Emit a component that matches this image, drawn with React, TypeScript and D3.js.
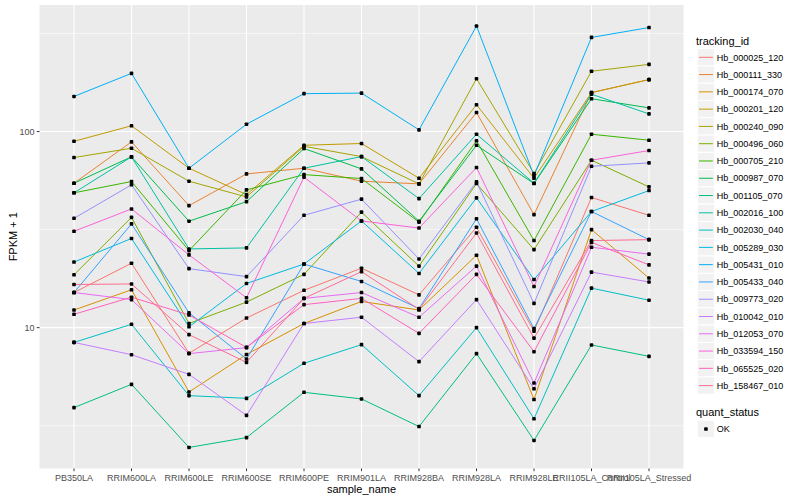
import React from "react";
import * as d3 from "d3";

const samples = [
  "PB350LA", "RRIM600LA", "RRIM600LE", "RRIM600SE", "RRIM600PE", "RRIM901LA",
  "RRIM928BA", "RRIM928LA", "RRIM928LE", "RRII105LA_Control", "RRII105LA_Stressed",
];

const trackingIds = [
  "Hb_000025_120", "Hb_000111_330", "Hb_000174_070", "Hb_000201_120", "Hb_000240_090",
  "Hb_000496_060", "Hb_000705_210", "Hb_000987_070", "Hb_001105_070", "Hb_002016_100",
  "Hb_002030_040", "Hb_005289_030", "Hb_005431_010", "Hb_005433_040", "Hb_009773_020",
  "Hb_010042_010", "Hb_012053_070", "Hb_033594_150", "Hb_065525_020", "Hb_158467_010",
];

const colors = [
  "#F8766D", "#EA8331", "#D89000", "#C09B00", "#A3A500", "#7CAE00", "#39B600", "#00BB4E",
  "#00BF7D", "#00C1A3", "#00BFC4", "#00BAE0", "#00B0F6", "#35A2FF", "#9590FF", "#C77CFF",
  "#E76BF3", "#FA62DB", "#FF62BC", "#FF6C90",
];

// FPKM + 1 per sample, in the order of `samples`
const hb_000025_120 = [15.1, 21.3, 7.4, 11.2, 15.5, 20.1, 14.7, 32.5, 9.6, 46.1, 37.4];
const hb_000111_330 = [54.5, 88.6, 41.9, 60.8, 65.0, 55.8, 54.1, 125, 37.7, 158, 184];
const hb_000174_070 = [12.3, 15.6, 4.7, 7.3, 10.5, 13.6, 12.3, 23.4, 4.3, 31.6, 17.9];
const hb_000201_120 = [89.2, 107, 65.0, 47.7, 85.1, 86.9, 57.8, 137, 57.8, 158, 184];
const hb_000240_090 = [73.7, 82.2, 55.8, 46.4, 84.1, 74.5, 54.1, 186, 61.1, 203, 220];
const hb_000496_060 = [18.6, 36.5, 10.5, 13.5, 18.7, 38.8, 20.6, 54.3, 25.0, 71.4, 52.2];
const hb_000705_210 = [48.7, 55.6, 24.7, 50.4, 60.3, 57.6, 34.5, 89.7, 27.8, 96.9, 90.3];
const hb_000987_070 = [54.5, 74.3, 34.9, 43.9, 81.9, 64.5, 34.9, 85.1, 54.3, 147, 132];
const hb_001105_070 = [3.91, 5.14, 2.45, 2.75, 4.68, 4.33, 3.13, 7.37, 2.66, 8.16, 7.14];
const hb_002016_100 = [48.7, 74.3, 25.2, 25.5, 65.0, 74.5, 45.5, 96.9, 54.5, 155, 123];
const hb_002030_040 = [8.41, 10.4, 4.5, 4.36, 6.58, 8.19, 4.5, 10.0, 3.43, 15.9, 13.8];
const hb_005289_030 = [21.6, 28.5, 10.1, 16.8, 21.1, 35.0, 18.9, 45.9, 17.6, 39.1, 50.0];
const hb_005431_010 = [151, 198, 65.0, 109, 156, 157, 102, 345, 59.6, 302, 339];
const hb_005433_040 = [15.1, 33.8, 11.9, 6.92, 21.1, 17.2, 12.5, 35.9, 9.88, 39.1, 28.1];
const hb_009773_020 = [36.1, 53.5, 20.0, 18.2, 37.4, 45.2, 22.4, 55.4, 13.3, 66.5, 69.2];
const hb_010042_010 = [8.41, 7.28, 5.78, 3.57, 10.5, 11.3, 6.71, 13.9, 4.88, 19.2, 17.1];
const hb_012053_070 = [15.1, 13.9, 7.37, 7.91, 14.1, 15.1, 11.3, 20.6, 5.22, 25.7, 23.7];
const hb_033594_150 = [31.0, 40.3, 23.5, 14.2, 58.5, 35.0, 32.2, 65.5, 16.2, 71.4, 80.0];
const hb_065525_020 = [11.7, 14.3, 11.6, 7.93, 13.1, 14.1, 9.35, 18.7, 7.54, 27.2, 20.9];
const hb_158467_010 = [16.6, 16.7, 9.21, 6.65, 14.1, 19.3, 12.4, 30.4, 8.84, 27.8, 28.1];

const seriesValues = [
  hb_000025_120, hb_000111_330, hb_000174_070, hb_000201_120, hb_000240_090,
  hb_000496_060, hb_000705_210, hb_000987_070, hb_001105_070, hb_002016_100,
  hb_002030_040, hb_005289_030, hb_005431_010, hb_005433_040, hb_009773_020,
  hb_010042_010, hb_012053_070, hb_033594_150, hb_065525_020, hb_158467_010,
];

const yMajorTicks = [10, 100];
const yMinorBreaks = [3.1623, 31.623, 316.23];
const quantStatus = ["OK"];

const FONT = "'Liberation Sans', Arial, Helvetica, sans-serif";

export default function App() {
  const W = 800;
  const H = 500;
  const panel = { left: 39.5, right: 683.5, top: 5, bottom: 468.5 };

  const all = seriesValues.flat();
  const lo = Math.log10(d3.min(all) as number);
  const hi = Math.log10(d3.max(all) as number);
  const pad = (hi - lo) * 0.05;

  const x = d3
    .scalePoint<string>()
    .domain(samples)
    .range([panel.left, panel.right])
    .padding(0.6);
  const y = d3
    .scaleLog()
    .domain([Math.pow(10, lo - pad), Math.pow(10, hi + pad)])
    .range([panel.bottom, panel.top]);

  const line = d3
    .line<number>()
    .x((_, i) => x(samples[i]) as number)
    .y((d) => y(d));

  const legendX = 697.3;
  const keySize = 17.28;
  const firstKeyCenter = 57.3;
  const qsTitleY = 416.3;
  const qsKeyCenter = 429;

  return (
    <svg
      width={W}
      height={H}
      style={{ position: "absolute", left: 0, top: 0, background: "#fff" }}
      fontFamily={FONT}
    >
      <rect x={0} y={0} width={W} height={H} fill="#fff" />
      {/* panel */}
      <rect
        x={panel.left}
        y={panel.top}
        width={panel.right - panel.left}
        height={panel.bottom - panel.top}
        fill="#EBEBEB"
      />
      {yMinorBreaks.map((v) => (
        <line
          key={"mn" + v}
          x1={panel.left}
          x2={panel.right}
          y1={y(v)}
          y2={y(v)}
          stroke="#fff"
          strokeWidth={0.55}
        />
      ))}
      {yMajorTicks.map((v) => (
        <line
          key={"mj" + v}
          x1={panel.left}
          x2={panel.right}
          y1={y(v)}
          y2={y(v)}
          stroke="#fff"
          strokeWidth={1.1}
        />
      ))}
      {samples.map((s) => (
        <line
          key={"vg" + s}
          x1={x(s)}
          x2={x(s)}
          y1={panel.top}
          y2={panel.bottom}
          stroke="#fff"
          strokeWidth={1.1}
        />
      ))}

      {/* lines */}
      {seriesValues.map((vals, i) => (
        <path
          key={"l" + i}
          d={line(vals) as string}
          fill="none"
          stroke={colors[i]}
          strokeWidth={1}
        />
      ))}
      {/* points */}
      {seriesValues.map((vals, i) =>
        vals.map((v, j) => (
          <rect
            key={"p" + i + "-" + j}
            x={(x(samples[j]) as number) - 1.8}
            y={y(v) - 1.8}
            width={3.6}
            height={3.6}
            rx={0.9}
            fill="#000"
          />
        ))
      )}

      {/* y axis */}
      {yMajorTicks.map((v) => (
        <g key={"yt" + v}>
          <line x1={panel.left - 2.7} x2={panel.left} y1={y(v)} y2={y(v)} stroke="#333" strokeWidth={1} />
          <text
            x={panel.left - 5}
            y={y(v) + 3.2}
            textAnchor="end"
            fontSize={9}
            fill="#4D4D4D"
          >
            {v}
          </text>
        </g>
      ))}
      {/* x axis */}
      {samples.map((s) => (
        <g key={"xt" + s}>
          <line
            x1={x(s)}
            x2={x(s)}
            y1={panel.bottom}
            y2={panel.bottom + 2.7}
            stroke="#333"
            strokeWidth={1}
          />
          <text x={x(s)} y={480.5} textAnchor="middle" fontSize={9} fill="#4D4D4D">
            {s}
          </text>
        </g>
      ))}
      <text
        x={(panel.left + panel.right) / 2}
        y={493}
        textAnchor="middle"
        fontSize={11}
        fill="#000"
      >
        sample_name
      </text>
      <text
        transform={`translate(16.5, ${(panel.top + panel.bottom) / 2}) rotate(-90)`}
        textAnchor="middle"
        fontSize={11}
        fill="#000"
      >
        FPKM + 1
      </text>

      {/* legend: tracking_id */}
      <text x={696} y={44.5} fontSize={11} fill="#000">
        tracking_id
      </text>
      {trackingIds.map((id, i) => {
        const cy = firstKeyCenter + keySize * i;
        return (
          <g key={"lg" + id}>
            <rect
              x={legendX}
              y={cy - keySize / 2}
              width={keySize}
              height={keySize}
              fill="#F2F2F2"
              stroke="#fff"
              strokeWidth={1}
            />
            <line
              x1={legendX + 1.7}
              x2={legendX + keySize - 1.7}
              y1={cy}
              y2={cy}
              stroke={colors[i]}
              strokeWidth={1}
            />
            <text x={716.7} y={cy + 3.2} fontSize={9} fill="#000">
              {id}
            </text>
          </g>
        );
      })}

      {/* legend: quant_status */}
      <text x={696} y={qsTitleY} fontSize={11} fill="#000">
        quant_status
      </text>
      {quantStatus.map((q, i) => {
        const cy = qsKeyCenter + keySize * i;
        return (
          <g key={"qs" + q}>
            <rect
              x={legendX}
              y={cy - keySize / 2}
              width={keySize}
              height={keySize}
              fill="#F2F2F2"
              stroke="#fff"
              strokeWidth={1}
            />
            <rect
              x={legendX + keySize / 2 - 1.8}
              y={cy - 1.8}
              width={3.6}
              height={3.6}
              rx={0.9}
              fill="#000"
            />
            <text x={716.7} y={cy + 3.2} fontSize={9} fill="#000">
              {q}
            </text>
          </g>
        );
      })}
    </svg>
  );
}
